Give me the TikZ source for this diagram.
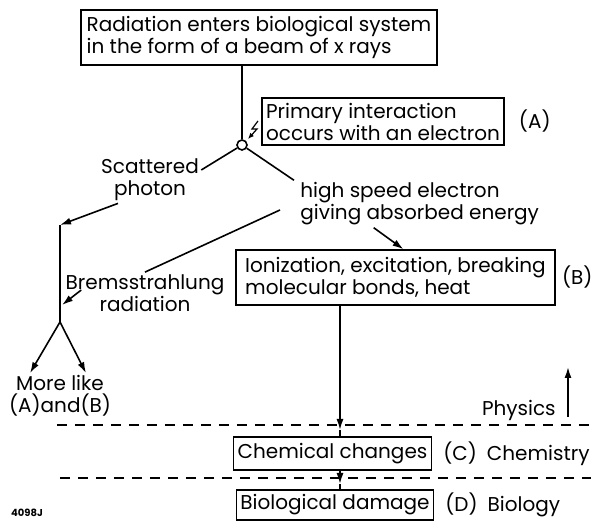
\documentclass[tikz,border=0pt]{standalone}
\usepackage{fontspec}
\setmainfont{Poppins}
\usetikzlibrary{arrows.meta, positioning}

\begin{document}
\begin{tikzpicture}[
    x=0.5pt, y=-0.5pt,
    box/.style={rectangle, draw, line width=0.7pt, inner sep=2pt, align=left, font=\fontsize{10}{11}\selectfont},
    lbl/.style={font=\fontsize{10}{11}\selectfont, inner sep=1pt},
    ln/.style={line width=0.8pt},
    ar/.style={-{Latex[length=5.5pt, width=3.5pt]}, line width=0.8pt},
    sep/.style={dashed, dash pattern=on 5pt off 4pt, line width=0.6pt},
  ]
  \useasboundingbox (0,0) rectangle (591,523);

  \node[box, minimum width=178pt, minimum height=27.5pt] (src) at (259,37.5) {Radiation enters biological system\\in the form of a beam of x rays};
  \node[draw, circle, ln, inner sep=0pt, minimum size=5pt] (int) at (242,145) {};
  \node[box, minimum width=120pt, minimum height=23.5pt] (prim) at (383,121.5) {Primary interaction\\occurs with an electron};
  \node[lbl, right=6pt of prim] (labA) {(A)};
  \node[lbl, align=center] (scat) at (150,180) {Scattered\\photon};
  \node[lbl, align=left, anchor=west] (elec) at (298,204) {high speed electron\\giving absorbed energy};
  \node[box, minimum width=159.5pt, minimum height=27.5pt] (ion) at (395.5,277.5) {Ionization, excitation, breaking\\molecular bonds, heat};
  \node[lbl, inner sep=0pt, right=3pt of ion] (labB) {(B)};
  \node[lbl, align=center] (brems) at (145,293) {Bremsstrahlung\\radiation};
  \node[lbl, align=center] (more) at (60,396) {More like\\(A)and(B)};
  \node[box, minimum width=94.5pt, minimum height=16.5pt] (chem) at (332.5,453.5) {Chemical changes};
  \node[lbl, anchor=west] (labC) at (441,453.5) {(C)\enspace Chemistry};
  \node[box, minimum width=97pt, minimum height=15pt] (bio) at (335,505) {Biological damage};
  \node[lbl, anchor=west] (labD) at (443,505) {(D)\enspace Biology};
  \node[lbl, anchor=east] (phys) at (558,410) {Physics};
  \node[font=\bfseries\fontsize{5}{6}\selectfont, inner sep=0pt] (code) at (27,513) {4098J};

  \coordinate (bend) at (60,225);
  \coordinate (fork) at (60,322);
  \coordinate (hit) at (62,305);
  \coordinate (zap) at (258,121);
  \coordinate (cross1) at (340,430);
  \coordinate (cross2) at (340,484);
  \coordinate (physBot) at (568,417);
  \coordinate (physTop) at (568,367);

  % Physics / chemistry / biology borders
  \draw[sep] (57,425) -- (591,425);
  \draw[sep] (60,478) -- (591,478);

  % Incoming beam and primary interaction
  \draw[ln] (src.south -| int) -- (int.north);
  \draw[-{Latex[length=3pt, width=2.5pt]}, line width=0.6pt] (zap) -- ++(-6,8) -- ++(5,0) -- ++(-9,10);

  % Scattered photon
  \draw[ln] (int) -- ([yshift=5pt]scat.east);
  \draw[ar] ([xshift=-16pt]scat.south) -- (bend);
  \draw[ln] (bend) -- (fork);
  \draw[ar] (fork) -- ([xshift=-15pt]more.north);
  \draw[ar] (fork) -- ([xshift=13pt]more.north);

  % High speed electron
  \draw[ln] (int) -- ([xshift=-2pt]elec.north west);
  \draw[ar] ([xshift=-23pt]elec.south) -- ([xshift=4pt]ion.north);
  \draw[ln] ([xshift=-9pt, yshift=-3pt]elec.west) -- (brems.north);
  \draw[ar] ([xshift=9pt, yshift=1.5pt]brems.west) -- (hit);

  % Down through the levels
  \draw[ar] (ion.south -| cross1) -- (cross1);
  \draw[ln] (cross1) -- (cross1 |- chem.north);
  \draw[ar] (chem.south -| cross2) -- (cross2);
  \draw[ln] (cross2) -- (cross2 |- bio.north);
  \draw[ar] (physBot) -- (physTop);
\end{tikzpicture}
\end{document}
